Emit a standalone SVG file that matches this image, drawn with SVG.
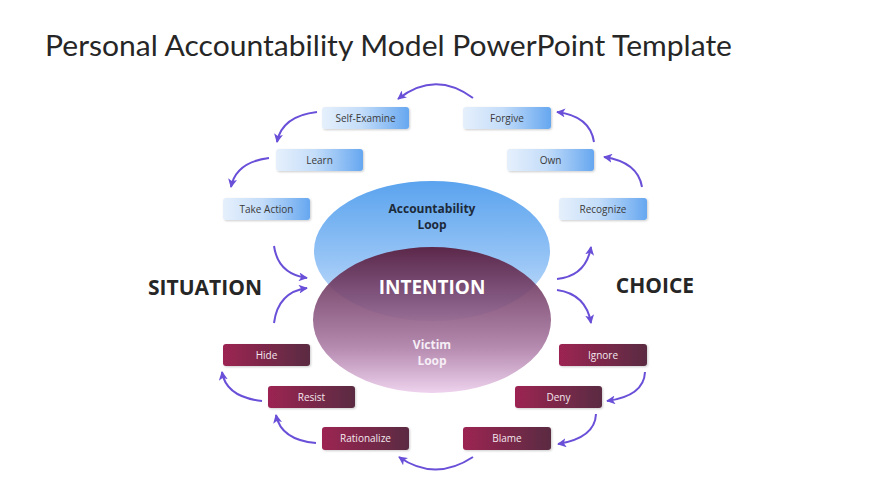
<svg xmlns="http://www.w3.org/2000/svg" width="870" height="489" viewBox="0 0 870 489">
<defs>
<linearGradient id="gBlueBox" x1="0" y1="0" x2="1" y2="0">
<stop offset="0" stop-color="#e6f0fc"/>
<stop offset="0.45" stop-color="#c4ddf9"/>
<stop offset="1" stop-color="#66a7f0"/>
</linearGradient>
<linearGradient id="gRedBox" x1="0" y1="0" x2="1" y2="0">
<stop offset="0" stop-color="#9c2452"/>
<stop offset="1" stop-color="#5a2c42"/>
</linearGradient>
<linearGradient id="gTop" x1="0" y1="0" x2="0" y2="1">
<stop offset="0" stop-color="#5aa3ee"/>
<stop offset="0.6" stop-color="#9ac6f6"/>
<stop offset="1" stop-color="#d6e8fb"/>
</linearGradient>
<linearGradient id="gBot" x1="0" y1="0" x2="0" y2="1">
<stop offset="0" stop-color="#5a2344" stop-opacity="0.97"/>
<stop offset="0.4" stop-color="#7e4873" stop-opacity="0.85"/>
<stop offset="0.7" stop-color="#b487ae" stop-opacity="0.95"/>
<stop offset="1" stop-color="#eed3ee"/>
</linearGradient>
<filter id="sh" x="-10%" y="-20%" width="130%" height="160%">
<feDropShadow dx="1" dy="1" stdDeviation="0.8" flood-color="#000" flood-opacity="0.2"/>
</filter>
<marker id="ah" viewBox="0 0 10 10" refX="9" refY="5" markerWidth="9" markerHeight="9" markerUnits="userSpaceOnUse" orient="auto">
<path d="M0,0 L10,5 L0,10 L2.5,5 Z" fill="#6a4fd8"/>
</marker>
</defs>
<style>
.box text { font-family: "Open Sans", "Noto Sans", "DejaVu Sans", sans-serif; font-size: 10px; text-anchor: middle; }
.blue text { fill: #3a3a3a; }
.red text { fill: #f4e8ee; }
.conn path { fill: none; stroke: #6a4fd8; stroke-width: 2; marker-end: url(#ah); }
.big { font-family: "Open Sans", "Noto Sans", "DejaVu Sans", sans-serif; font-weight: bold; text-anchor: middle; }
</style>
<rect width="870" height="489" fill="#ffffff"/>
<text x="45" y="56" font-family="Lato, 'Open Sans', 'Liberation Sans', sans-serif" font-weight="400" font-size="28" fill="#262626" textLength="687" lengthAdjust="spacingAndGlyphs">Personal Accountability Model PowerPoint Template</text>

<g id="loops">
<ellipse id="accountability-loop" cx="432" cy="251" rx="118" ry="70" fill="url(#gTop)"/>
<ellipse id="victim-loop" cx="432" cy="320" rx="119" ry="73" fill="url(#gBot)"/>
<text class="big" x="432" y="213" font-size="12" fill="#1d2a3a">Accountability</text>
<text class="big" x="432" y="229" font-size="12" fill="#1d2a3a">Loop</text>
<text class="big" x="432" y="294" font-size="19" fill="#ffffff">INTENTION</text>
<text class="big" x="432" y="349" font-size="12" fill="#f6eef6">Victim</text>
<text class="big" x="432" y="365" font-size="12" fill="#f6eef6">Loop</text>
</g>

<g id="situation"><text class="big" x="205" y="295" font-size="21" fill="#262626">SITUATION</text></g>
<g id="choice"><text class="big" x="655" y="293" font-size="21" fill="#262626">CHOICE</text></g>

<g id="self-examine" class="box blue"><rect x="322" y="107" width="87" height="22" rx="3" fill="url(#gBlueBox)" filter="url(#sh)"/><text x="365.5" y="122">Self-Examine</text></g>
<g id="forgive" class="box blue"><rect x="463" y="107" width="88" height="22" rx="3" fill="url(#gBlueBox)" filter="url(#sh)"/><text x="507" y="122">Forgive</text></g>
<g id="learn" class="box blue"><rect x="276" y="149" width="87" height="22" rx="3" fill="url(#gBlueBox)" filter="url(#sh)"/><text x="319.5" y="164">Learn</text></g>
<g id="own" class="box blue"><rect x="507" y="149" width="87" height="22" rx="3" fill="url(#gBlueBox)" filter="url(#sh)"/><text x="550.5" y="164">Own</text></g>
<g id="take-action" class="box blue"><rect x="223" y="198" width="87" height="22" rx="3" fill="url(#gBlueBox)" filter="url(#sh)"/><text x="266.5" y="213">Take Action</text></g>
<g id="recognize" class="box blue"><rect x="559" y="198" width="88" height="22" rx="3" fill="url(#gBlueBox)" filter="url(#sh)"/><text x="603" y="213">Recognize</text></g>

<g id="hide" class="box red"><rect x="223" y="344" width="87" height="22" rx="3" fill="url(#gRedBox)" filter="url(#sh)"/><text x="266.5" y="359">Hide</text></g>
<g id="ignore" class="box red"><rect x="559" y="344" width="88" height="22" rx="3" fill="url(#gRedBox)" filter="url(#sh)"/><text x="603" y="359">Ignore</text></g>
<g id="resist" class="box red"><rect x="268" y="386" width="87" height="22" rx="3" fill="url(#gRedBox)" filter="url(#sh)"/><text x="311.5" y="401">Resist</text></g>
<g id="deny" class="box red"><rect x="515" y="386" width="87" height="22" rx="3" fill="url(#gRedBox)" filter="url(#sh)"/><text x="558.5" y="401">Deny</text></g>
<g id="rationalize" class="box red"><rect x="322" y="427" width="87" height="23" rx="3" fill="url(#gRedBox)" filter="url(#sh)"/><text x="365.5" y="442">Rationalize</text></g>
<g id="blame" class="box red"><rect x="463" y="427" width="88" height="23" rx="3" fill="url(#gRedBox)" filter="url(#sh)"/><text x="507" y="442">Blame</text></g>

<g id="connectors" class="conn">
<path d="M473,98 Q435,70 398,99"/>
<path d="M317,112 Q282,116 277,142"/>
<path d="M269,158 Q236,162 231,187"/>
<path d="M642,187 Q638,162 604,157"/>
<path d="M594,142 Q590,116 557,112"/>
<path d="M645,372 Q644,396 607,401"/>
<path d="M596,414 Q595,438 558,444"/>
<path d="M473,457 Q435,482 399,457"/>
<path d="M316,443 Q281,440 276,415"/>
<path d="M262,401 Q226,397 222,372"/>
<path d="M274,246 Q278,274 307,278"/>
<path d="M274,323 Q278,292 307,288"/>
<path d="M557,279 Q586,276 591,247"/>
<path d="M557,290 Q586,294 591,323"/>
</g>
</svg>
